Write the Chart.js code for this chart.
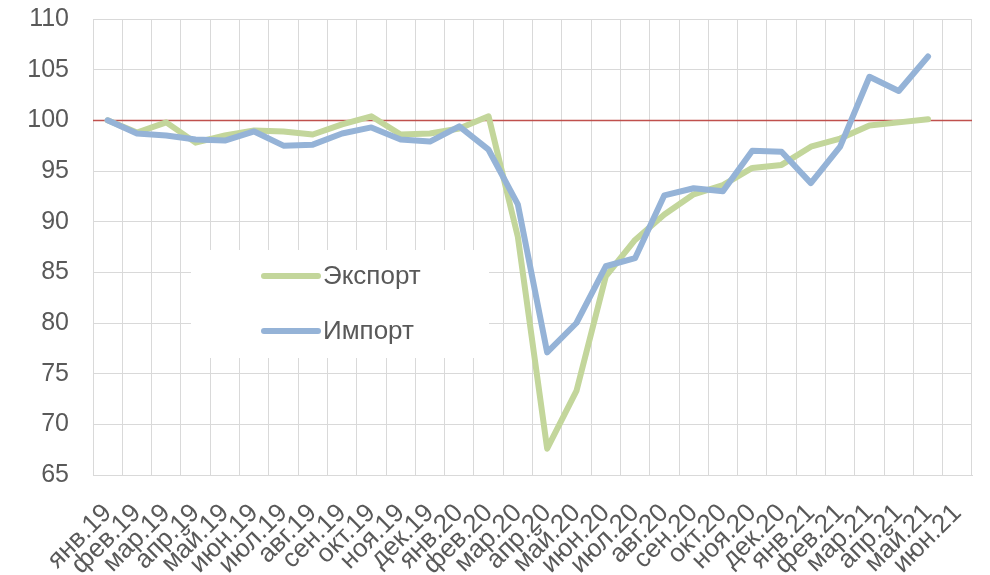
<!DOCTYPE html>
<html lang="ru">
<head>
<meta charset="utf-8">
<script src="https://cdn.jsdelivr.net/npm/chart.js@4/dist/chart.umd.min.js"></script>
<style>
  html, body { margin: 0; padding: 0; background: #fff; }
  #wrap { width: 990px; height: 575px; }
</style>
</head>
<body>
<div id="wrap"><canvas id="c"></canvas></div>
<script>
'use strict';

/* ---- data ---------------------------------------------------------------- */
const months = ['янв.19','фев.19','мар.19','апр.19','май.19','июн.19','июл.19','авг.19','сен.19','окт.19','ноя.19','дек.19',
                'янв.20','фев.20','мар.20','апр.20','май.20','июн.20','июл.20','авг.20','сен.20','окт.20','ноя.20','дек.20',
                'янв.21','фев.21','мар.21','апр.21','май.21','июн.21'];
const exportIdx = [100.0, 98.8, 99.8, 97.8, 98.5, 99.0, 98.9, 98.6, 99.6, 100.4, 98.6, 98.7,
                   99.2, 100.4, 88.5, 67.6, 73.3, 84.6, 88.2, 90.7, 92.7, 93.6, 95.3, 95.6,
                   97.4, 98.2, 99.5, 99.8, 100.1, null];
const importIdx = [100.0, 98.7, 98.5, 98.1, 98.0, 98.9, 97.5, 97.6, 98.7, 99.3, 98.1, 97.9,
                   99.4, 97.1, 91.7, 77.1, 80.0, 85.6, 86.4, 92.6, 93.3, 93.0, 97.0, 96.9,
                   93.8, 97.4, 104.3, 102.9, 106.3, null];
const seriesNames = ['Экспорт', 'Импорт'];
const REF = 100;                 // базовый уровень (красная линия)
const Y_MIN = 65, Y_MAX = 110, Y_STEP = 5;

/* ---- styles -------------------------------------------------------------- */
const GREEN = '#C3D69B', BLUE = '#95B3D7', RED = '#C0504D';
const GRID = '#D9D9D9', TXT = '#595959';
const FONT = 'Arial, "Liberation Sans", sans-serif';

/* reference line at 100 across the whole plot */
const refLine = {
  id: 'refLine',
  beforeDatasetsDraw(chart){
    const { ctx, chartArea: a, scales: { y } } = chart;
    const py = Math.round(y.getPixelForValue(REF)) + 0.5;
    ctx.save();
    ctx.strokeStyle = RED; ctx.lineWidth = 1.5;
    ctx.beginPath(); ctx.moveTo(a.left, py); ctx.lineTo(a.right, py); ctx.stroke();
    ctx.restore();
  }
};

/* legend sitting inside the plot on a white box */
const boxLegend = {
  id: 'boxLegend',
  beforeDatasetsDraw(chart){
    const ctx = chart.ctx;
    ctx.save();
    ctx.fillStyle = '#fff';
    ctx.fillRect(191, 250, 298, 108);
    chart.data.datasets.forEach((ds, i) => {
      const yy = 276 + i * 55;
      ctx.strokeStyle = ds.borderColor; ctx.lineWidth = 6; ctx.lineCap = 'round';
      ctx.beginPath(); ctx.moveTo(264, yy); ctx.lineTo(318, yy); ctx.stroke();
      ctx.fillStyle = TXT; ctx.font = '26px ' + FONT;
      ctx.textBaseline = 'middle'; ctx.textAlign = 'left';
      ctx.fillText(ds.label, 323, yy + 1);
    });
    ctx.restore();
  }
};

const line = (label, data, color, order) => ({
  label, data, order,
  borderColor: color, backgroundColor: color,
  borderWidth: 6, pointRadius: 0, tension: 0,
  borderCapStyle: 'round', borderJoinStyle: 'round', spanGaps: false,
});

new Chart(document.getElementById('c'), {
  type: 'line',
  data: {
    labels: months,
    datasets: [
      line(seriesNames[0], exportIdx, GREEN, 1),
      line(seriesNames[1], importIdx, BLUE, 0),
    ],
  },
  options: {
    responsive: true, maintainAspectRatio: false, animation: false,
    layout: { padding: { top: 19, right: 18, left: 0, bottom: 0 } },
    plugins: { legend: { display: false }, tooltip: { enabled: false } },
    scales: {
      x: {
        offset: true,
        grid: { color: GRID, lineWidth: 1, offset: true, drawTicks: true, tickLength: 21, tickColor: 'rgba(0,0,0,0)' },
        border: { color: GRID },
        ticks: { color: TXT, font: { family: FONT, size: 26 }, minRotation: 45, maxRotation: 45, padding: 2, autoSkip: false },
        afterFit: (s) => { s.height = 100; },
      },
      y: {
        min: Y_MIN, max: Y_MAX,
        grid: { color: GRID, lineWidth: 1, drawTicks: true, tickLength: 20, tickColor: 'rgba(0,0,0,0)' },
        border: { color: GRID },
        ticks: { stepSize: Y_STEP, color: TXT, font: { family: FONT, size: 25 }, padding: 4 },
        afterFit: (s) => { s.width = 93; },
      },
    },
  },
  plugins: [refLine, boxLegend],
});
</script>
</body>
</html>
